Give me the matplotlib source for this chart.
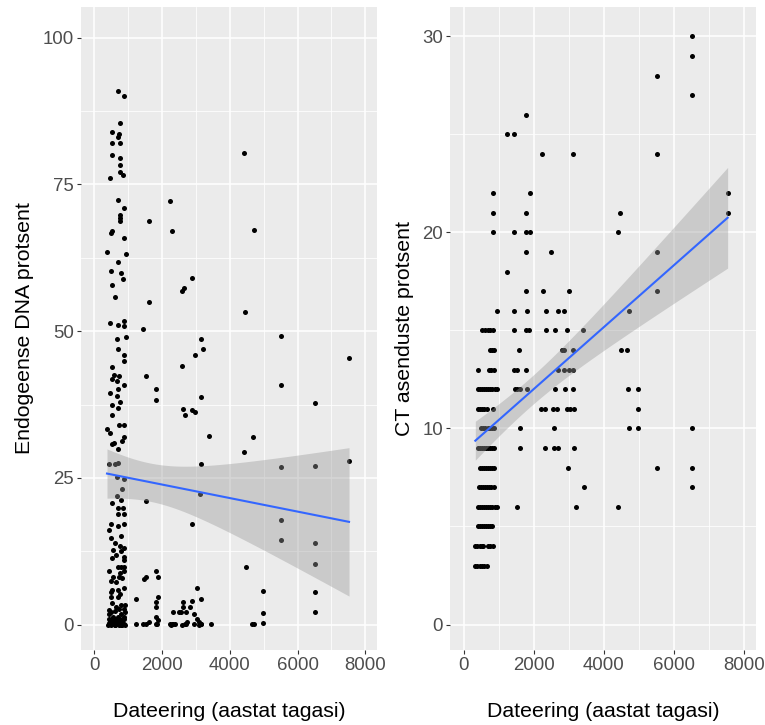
import numpy as np
import matplotlib
matplotlib.use("Agg")
import matplotlib.pyplot as plt
from matplotlib.ticker import MultipleLocator

plt.rcParams['font.family'] = ['Liberation Sans', 'DejaVu Sans']

# left panel: endogenous DNA percent vs date (years ago)
dna_x = [690, 880, 770, 530, 730, 690, 530, 770, 530, 770, 770, 770, 850, 455, 4430,
         690, 880, 770, 770, 770, 1600, 2240, 2300, 4710, 490, 530, 870, 375, 945, 690,
         490, 800, 850, 530, 2890, 2600, 2650, 610, 1600, 4450, 455, 690, 880, 880, 1450,
         660, 945, 690, 870, 870, 530, 580, 740, 530, 660, 870, 690, 455, 660, 770,
         530, 690, 530, 720, 870, 385, 455, 870, 820, 530, 590, 690, 425, 620, 690,
         660, 870, 820, 660, 530, 800, 690, 850, 690, 870, 485, 870, 425, 690, 485,
         800, 800, 530, 630, 870, 870, 690, 800, 870, 425, 870, 770, 560, 720, 485,
         820, 630, 530, 690, 870, 485, 690, 530, 800, 905, 630, 870, 485, 425, 800,
         560, 690, 870,
         420, 530, 630, 770, 870, 430, 480, 530, 630, 690, 770, 870, 400, 450, 500,
         560, 600, 660, 720, 750, 810, 850, 900, 620, 780,
         470, 580, 700, 830, 440, 600, 740,
         900, 500, 760, 560, 620, 760, 880,
         1530, 1830, 1830, 1530, 1240, 1470, 1520, 1830, 1880, 1880, 1830, 1820, 1830,
         1880, 1830, 1530, 1450, 1600, 1240, 1850,
         2590, 2980, 3140, 3200, 3140, 2630, 2690, 2890, 2980, 3380, 3140, 3120, 2890,
         3030, 3140, 2890, 2630, 2320, 2490, 2570, 2710, 2630, 2830, 2950, 3030, 3090,
         3140, 3440, 2240, 2330, 2370, 2690, 2730,
         2250, 2300, 2600, 2700, 2950, 3100, 3150,
         4690, 4410, 4470, 4975, 4975, 4975, 4650, 4710,
         5520, 5520, 5520, 5520, 5520,
         6520, 6520, 6520, 6520, 6520, 6520,
         7520, 7520]
dna_y = [90.9, 90.0, 85.5, 83.9, 83.5, 83.0, 82.0, 82.0, 80.0, 79.5, 78.3, 77.1, 76.6, 76.1, 80.4,
         72.4, 70.9, 69.8, 69.2, 68.8, 68.7, 72.1, 67.0, 67.2, 66.7, 67.0, 65.9, 63.4, 63.2, 61.8,
         60.2, 59.9, 58.8, 57.9, 59.0, 56.9, 57.3, 55.8, 55.0, 53.2, 51.4, 51.0, 51.7, 50.8, 50.4,
         48.7, 49.0, 46.9, 46.0, 44.9, 43.9, 42.5, 42.3, 41.9, 41.5, 40.9, 40.1, 39.4, 39.0, 38.0,
         37.5, 36.9, 35.8, 34.0, 34.0, 33.4, 32.7, 31.9, 31.3, 30.8, 31.0, 30.0, 27.3, 27.4, 27.5,
         25.2, 24.9, 23.2, 21.9, 20.8, 21.3, 19.8, 19.8, 18.9, 18.8, 17.1, 17.1, 16.1, 16.8, 14.7,
         15.1, 12.5, 11.4, 11.8, 11.6, 11.0, 9.8, 9.9, 9.9, 9.1, 9.1, 8.8, 8.2, 8.1, 7.5,
         7.9, 7.3, 6.0, 6.0, 6.3, 4.7, 4.7, 3.7, 3.3, 3.3, 3.1, 2.7, 2.1, 1.9, 1.9,
         1.4, 1.3, 1.4,
         1.0, 1.0, 1.0, 1.0, 1.0, 0.3, 0.2, 0.4, 0.2, 0.4, 0.3, 0.2, 0.0, 0.1, 0.0,
         0.1, 0.0, 0.1, 0.0, 0.1, 0.0, 0.1, 0.0, 0.0, 0.0,
         0.6, 0.7, 0.6, 0.7, 2.5, 2.4, 2.6,
         2.2, 5.5, 5.2, 12.8, 14.0, 13.4, 13.0,
         42.3, 40.1, 38.2, 21.0, 4.4, 7.8, 8.1, 9.1, 8.1, 4.8, 3.9, 3.0, 1.4,
         0.8, 0.2, 0.2, 0.2, 0.4, 0.1, 0.1,
         44.0, 45.9, 48.6, 47.0, 38.7, 36.8, 35.7, 36.6, 36.2, 32.2, 27.3, 22.3, 17.1,
         6.2, 4.4, 4.0, 3.9, 2.1, 2.1, 2.1, 2.1, 3.0, 3.1, 1.9, 1.0, 0.5,
         0.2, 0.1, 0.2, 0.2, 0.1, 0.2, 0.4,
         0.0, 0.1, 0.0, 0.1, 0.2, 0.0, 0.1,
         32.0, 29.5, 9.8, 5.8, 2.0, 0.3, 0.2, 0.1,
         49.1, 40.9, 26.8, 17.9, 14.4,
         37.7, 27.0, 13.9, 10.4, 5.6, 2.2,
         45.4, 27.9]

# right panel: CT percent (integer values), dates grouped by CT value
ct_rows = {
    30: [6514],
    29: [6514],
    28: [5530],
    27: [6514],
    26: [1786],
    25: [1223, 1423],
    24: [2235, 3124, 5530],
    22: [832, 1882, 7536],
    21: [832, 1786, 4471, 7536],
    20: [832, 1423, 1786, 1882, 4413],
    19: [1786, 2484, 5530],
    18: [1223],
    17: [1786, 2264, 3009, 5530],
    16: [946, 1423, 1805, 2341, 2703, 2866, 4728],
    15: [520, 600, 680, 760, 840, 1423, 1767, 1862, 2359, 2607, 2942, 3401],
    14: [740, 800, 860, 1576, 2817, 2865, 3133, 4490, 4671],
    13: [420, 720, 790, 860, 1433, 1509, 1786, 2693, 2865, 3009, 3133],
    12: [400, 460, 520, 580, 640, 700, 760, 820, 880, 950, 1452, 1528, 1605, 1796,
         2607, 2894, 3133, 4690, 4967],
    11: [400, 460, 520, 580, 650, 840, 2197, 2321, 2560, 2655, 2961, 3038, 3152, 4967],
    10: [500, 560, 620, 680, 740, 800, 860, 1605, 2588, 4719, 4967, 6514],
    9: [400, 460, 520, 580, 640, 700, 760, 820, 860, 1605, 2311, 2579, 2693, 3152],
    8: [460, 520, 580, 640, 700, 760, 820, 860, 2980, 5530, 6514],
    7: [430, 490, 550, 610, 670, 730, 790, 850, 3430, 6514],
    6: [400, 460, 520, 580, 640, 700, 760, 820, 880, 950, 1528, 3200, 4413],
    5: [400, 460, 520, 580, 640, 700, 760, 810],
    4: [330, 390, 450, 520, 560, 690, 760, 830],
    3: [330, 390, 450, 520, 590, 650],
}
ct_x = [x for v, xs in ct_rows.items() for x in xs]
ct_y = [v for v, xs in ct_rows.items() for x in xs]

x_ticks = [0, 2000, 4000, 6000, 8000]
dna_ticks = [0, 25, 50, 75, 100]
ct_ticks = [0, 10, 20, 30]

xlabel = 'Dateering (aastat tagasi)'
dna_label = 'Endogeense DNA protsent'
ct_label = 'CT asenduste protsent'


def lm_band(x, y, n=80, t=1.97):
    x = np.asarray(x, float)
    y = np.asarray(y, float)
    b, a = np.polyfit(x, y, 1)
    res = y - (a + b * x)
    s = np.sqrt(np.sum(res ** 2) / (len(x) - 2))
    xm = x.mean()
    sxx = np.sum((x - xm) ** 2)
    xs = np.linspace(x.min(), x.max(), n)
    fit = a + b * xs
    se = s * np.sqrt(1 / len(x) + (xs - xm) ** 2 / sxx)
    return xs, fit, fit - t * se, fit + t * se


def style(ax, yticks, ystep):
    ax.set_facecolor('#EBEBEB')
    for sp in ax.spines.values():
        sp.set_visible(False)
    ax.set_xticks(x_ticks)
    ax.set_yticks(yticks)
    ax.xaxis.set_minor_locator(MultipleLocator(1000))
    ax.yaxis.set_minor_locator(MultipleLocator(ystep / 2))
    ax.grid(which='major', color='white', linewidth=1.1)
    ax.grid(which='minor', color='white', linewidth=0.55)
    ax.set_axisbelow(True)
    ax.tick_params(which='major', length=3, width=0.8, color='#333333',
                   labelsize=13.4, labelcolor='#4D4D4D', pad=2)
    ax.tick_params(which='minor', length=0)
    ax.set_xlabel(xlabel, fontsize=15.3, labelpad=20)


W, H = 765, 725
fig = plt.figure(figsize=(W / 100, H / 100), dpi=100)
ax1 = fig.add_axes([81 / W, 75 / H, 296 / W, 643 / H])
ax2 = fig.add_axes([450 / W, 75 / H, 306 / W, 643 / H])

for ax, xs, ys, yt, ystep, ylab, ylim in (
        (ax1, dna_x, dna_y, dna_ticks, 25, dna_label, (-4.3, 105.2)),
        (ax2, ct_x, ct_y, ct_ticks, 10, ct_label, (-1.3, 31.5))):
    style(ax, yt, ystep)
    ax.scatter(xs, ys, s=13, color='black', linewidths=0, zorder=2)
    gx, fit, lo, hi = lm_band(xs, ys)
    ax.fill_between(gx, lo, hi, color='#999999', alpha=0.4, linewidth=0, zorder=3)
    ax.plot(gx, fit, color='#3366FF', linewidth=1.5, zorder=4)
    ax.set_xlim(-393, 8346)
    ax.set_ylim(*ylim)
    ax.set_ylabel(ylab, fontsize=15.3, labelpad=6)

fig.savefig('out.png', dpi=100)
